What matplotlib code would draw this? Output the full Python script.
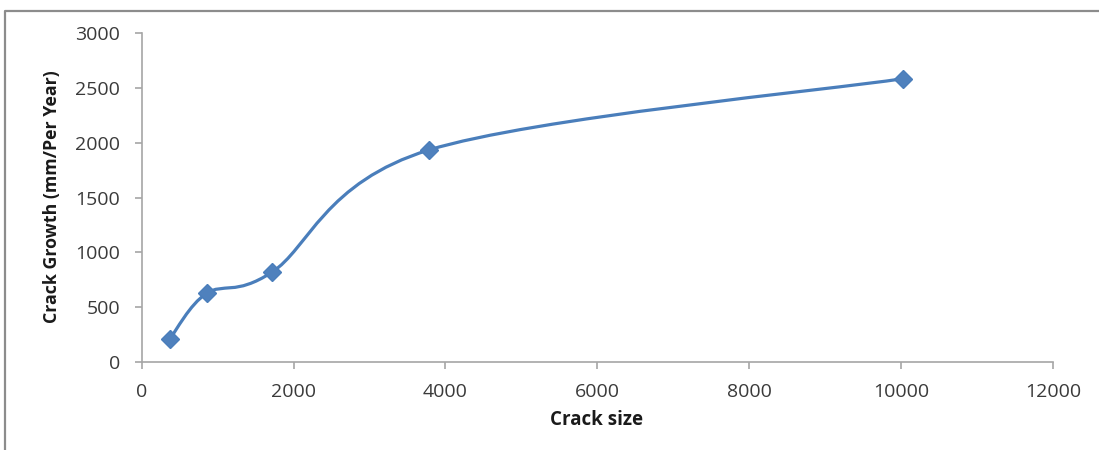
import matplotlib
matplotlib.use("Agg")
import matplotlib.pyplot as plt
import numpy as np
from matplotlib.path import Path
from matplotlib.patches import PathPatch
from matplotlib.lines import Line2D

crack_size = [370, 853, 1710, 3785, 10020]
crack_growth = [210, 625, 816, 1935, 2585]
x_ticks = [0, 2000, 4000, 6000, 8000, 10000, 12000]
y_ticks = [0, 500, 1000, 1500, 2000, 2500, 3000]

LINE = "#4A7EBB"
FILL = "#4F81BD"
AXIS = "#A6A6A6"
TEXT = "#3A3A3A"

plt.rcParams["font.family"] = ["Open Sans", "DejaVu Sans"]

fig = plt.figure(figsize=(10.99, 4.5), dpi=100)
ax = fig.add_axes([0.129, 0.196, 0.829, 0.730])

# smoothed line (Catmull-Rom style cubic Bezier segments through the points)
pts = np.column_stack([crack_size, crack_growth]).astype(float)
n = len(pts)
verts = [tuple(pts[0])]
codes = [Path.MOVETO]
for i in range(n - 1):
    p_prev = pts[max(i - 1, 0)]
    p0 = pts[i]
    p1 = pts[i + 1]
    p_next = pts[min(i + 2, n - 1)]
    c1 = p0 + (p1 - p_prev) / 6.0
    c2 = p1 - (p_next - p0) / 6.0
    verts += [tuple(c1), tuple(c2), tuple(p1)]
    codes += [Path.CURVE4] * 3
ax.add_patch(PathPatch(Path(verts, codes), facecolor="none", edgecolor=LINE,
                       lw=2.3, capstyle="round", joinstyle="round", zorder=2))
ax.plot(crack_size, crack_growth, ls="none", marker="D", markersize=9,
        markerfacecolor=FILL, markeredgecolor=LINE, zorder=3)

ax.set_xlim(0, 12000)
ax.set_ylim(0, 3000)
ax.set_xticks(x_ticks)
ax.set_yticks(y_ticks)
ax.set_xticklabels([str(v) for v in x_ticks])
ax.set_yticklabels([str(v) for v in y_ticks])

for s in ["top", "right"]:
    ax.spines[s].set_visible(False)
for s in ["left", "bottom"]:
    ax.spines[s].set_color(AXIS)
    ax.spines[s].set_linewidth(1.2)
ax.tick_params(axis="both", colors=AXIS, length=5, width=1.2, direction="out",
               labelsize=14, labelcolor=TEXT)
ax.tick_params(axis="x", pad=10)
ax.tick_params(axis="y", pad=10.5)

fig.text(597 / 1099, 1 - 420 / 450, "Crack size", ha="center", va="center",
         fontsize=13.5, fontweight="bold", color="#1a1a1a")
fig.text(52 / 1099, 1 - 197 / 450, "Crack Growth (mm/Per Year)", ha="center",
         va="center", rotation=90, fontsize=12.8, fontweight="bold", color="#1a1a1a")

# outer chart frame (top and left edges)
fig.add_artist(Line2D([5 / 1099, 5 / 1099, 1.0], [0.0, 1 - 11 / 450, 1 - 11 / 450],
                      transform=fig.transFigure, color="#8C8C8C", lw=1.6))

fig.savefig("out.png", dpi=100, facecolor="white")
